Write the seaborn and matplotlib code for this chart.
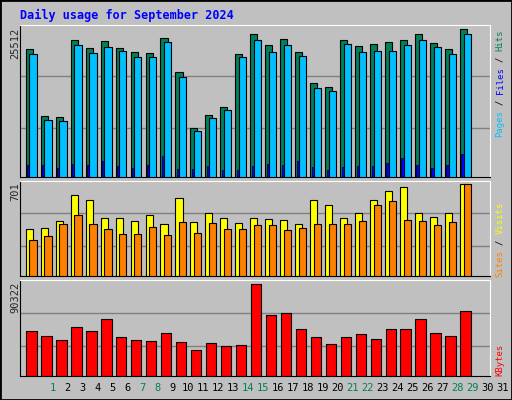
import numpy as np
import pandas as pd
import matplotlib
matplotlib.use("Agg")
import matplotlib.pyplot as plt
import seaborn as sns

sns.set_style("white")
plt.rcParams['font.family'] = ['DejaVu Sans Mono', 'DejaVu Sans']

days = list(range(1, 32))
day_labels = [str(d) for d in days]
weekend = [1, 7, 8, 14, 15, 21, 22, 28, 29]
hits = [22050, 10620, 10450, 23610, 22220, 23430, 22220, 21530, 21360, 23950,
        18070, 8540, 10790, 12010, 21180, 24650, 22740, 23780, 21530, 16160,
        15470, 23610, 22570, 22920, 23260, 23610, 24650, 23090, 22050, 25512]
files = [21180, 9930, 9750, 22740, 21360, 22400, 21700, 20660, 20660, 23260,
         17200, 8020, 10270, 11490, 20660, 23610, 21530, 22740, 20840, 15300,
         14780, 22920, 21530, 21700, 21700, 22740, 23610, 22400, 21180, 24650]
pages = [2020, 2020, 1620, 2190, 2020, 2710, 1850, 1500, 2020, 3580,
         1330, 1330, 1850, 1150, 1150, 1850, 2190, 2020, 2710, 1670,
         1150, 1670, 1850, 1850, 2370, 3230, 2020, 1500, 2020, 3900]
visits = [359, 367, 420, 618, 580, 441, 441, 420, 465, 396,
          595, 412, 480, 441, 404, 441, 434, 427, 396, 580,
          541, 441, 480, 580, 648, 678, 480, 450, 480, 701]
sites = [274, 305, 396, 465, 396, 359, 320, 320, 374, 315,
         412, 328, 404, 359, 359, 389, 389, 351, 366, 396,
         396, 396, 420, 541, 572, 427, 420, 389, 412, 701]
kbytes = [44200, 39300, 35300, 48100, 44200, 56100, 38300, 35300, 34300, 42200,
          33300, 25400, 32300, 29300, 30300, 90322, 59600, 61600, 45800, 38300,
          31400, 38300, 41200, 36300, 46100, 45800, 56100, 42200, 39300, 64300]

n = len(hits)
x = np.arange(1, n + 1)
W, H = 512, 400
fig = plt.figure(figsize=(W / 100, H / 100), dpi=100)
fig.patch.set_facecolor('#C0C0C0')
fig.add_artist(plt.Rectangle((0, 0), 1, 1, transform=fig.transFigure,
                             fill=False, edgecolor='black', lw=2))

def axes_px(left, top, right, bottom):
    return fig.add_axes([left / W, 1 - bottom / H, (right - left) / W, (bottom - top) / H])

def style(ax, ymax, grids):
    ax.set_facecolor('#C0C0C0')
    ax.set_xlim(0.167, 31.54)
    ax.set_ylim(0, ymax)
    for g in grids:
        ax.axhline(g, color='#808080', lw=1, zorder=0)
    ax.set_xticks([]); ax.set_yticks([])
    for s in ['left', 'bottom']:
        ax.spines[s].set_color('black')
    for s in ['top', 'right']:
        ax.spines[s].set_color('white')

ek = dict(edgecolor='black', linewidth=0.8)

ax1 = axes_px(20, 25, 490, 177)
style(ax1, 25512 * 455 / 442, [301 * 57.72, 148 * 57.72])
ax1.bar(x - 0.22, hits, width=0.47, color='#00805C', **ek, zorder=2)
ax1.bar(x + 0.03, files, width=0.49, color='#00C0FF', **ek, zorder=3)
ax1.bar(x - 0.29, pages, width=0.16, color='#0000FF', edgecolor='black', linewidth=0.5, zorder=4)

ax2 = axes_px(20, 180.7, 490, 276.3)
style(ax2, 701 * 287 / 276, [189 * 2.54, 90 * 2.54])
ax2.bar(x - 0.22, visits, width=0.47, color='#FFFF00', **ek, zorder=2)
ax2.bar(x + 0.03, sites, width=0.49, color='#FF8000', **ek, zorder=3)

ax3 = axes_px(20, 280.3, 490, 375.7)
style(ax3, 90322 * 286 / 274, [187 * 329.6, 88 * 329.6])
df = pd.DataFrame({'day': x - 0.08, 'kb': kbytes})
ax3.bar(df['day'], df['kb'], width=0.71, color='#FF0000', **ek, zorder=2)

for d in days:
    xp = (20 + (97.5 + 45 * (d - 1)) / 3) / W
    fig.text(xp, 1 - 388 / H, day_labels[d - 1], ha='center', va='center', fontsize=7.5,
             color='#00805C' if d in weekend else 'black')

fig.text(20 / W, 1 - 15 / H, 'Daily usage for September 2024', color='#0000FF',
         fontsize=8.5, fontweight='bold', va='center', ha='left')

for txt, ytop in [('25512', 28), ('701', 182), ('90322', 282)]:
    fig.text(15 / W, 1 - ytop / H, txt, rotation=90, ha='center', va='top', fontsize=7.5)

FS = 6.4
CW = 0.602 * FS * 100 / 72

def vlabel(parts, ybottom):
    y = ybottom
    for t, c in parts:
        s = t.strip()
        lead = len(t) - len(t.lstrip())
        fig.text(500 / W, 1 - (y - lead * CW) / H, s, rotation=90, ha='center', va='bottom',
                 fontsize=FS, color=c)
        y -= CW * len(t)

vlabel([('Pages', '#00C0FF'), (' /', 'black'), (' Files', '#0000FF'), (' /', 'black'), (' Hits', '#00805C')], 137)
vlabel([('Sites', '#FF8000'), (' /', 'black'), (' Visits', '#FFFF00')], 277)
vlabel([('KBytes', '#FF0000')], 376)

fig.savefig('out.png', dpi=100, facecolor=fig.get_facecolor())
